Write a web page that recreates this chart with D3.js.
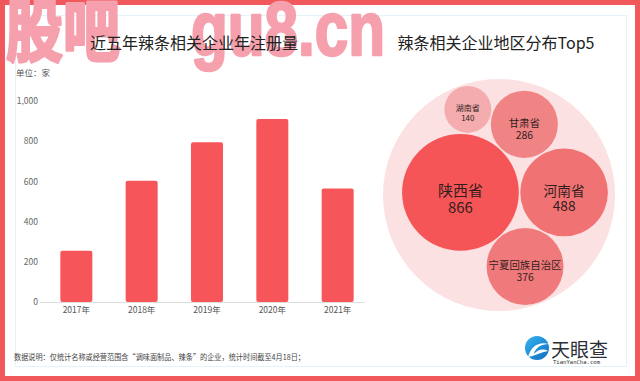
<!DOCTYPE html>
<html>
<head>
<meta charset="utf-8">
<script src="https://cdn.jsdelivr.net/npm/d3@7"></script>
<style>
  body { margin: 0; background: #fff; }
  svg { display: block; }
</style>
</head>
<body>
<div id="chart"></div>
<script>
// bar chart data
const years = ['2017年', '2018年', '2019年', '2020年', '2021年'];
const counts = [255, 603, 795, 910, 565];
const yTicks = [0, 200, 400, 600, 800, 1000];

// bubble data
const regions = ['陕西省', '河南省', '宁夏回族自治区', '甘肃省', '湖南省'];
const regionCounts = [866, 488, 376, 286, 140];

const W = 640;
const H = 381;
const cjk = '"Noto Sans CJK SC", "Noto Sans", sans-serif';

const svg = d3.select('#chart')
  .append('svg')
  .attr('width', W)
  .attr('height', H);

svg.append('rect')
  .attr('width', W)
  .attr('height', H)
  .attr('fill', '#fff');

// faint inner frame
svg.append('rect')
  .attr('x', 15.5)
  .attr('y', 15.5)
  .attr('width', 611)
  .attr('height', 351)
  .attr('fill', 'none')
  .attr('stroke', '#e4f3fa');

// red outer frame
svg.append('rect')
  .attr('x', 2.5)
  .attr('y', 2.5)
  .attr('width', W - 5)
  .attr('height', H - 5)
  .attr('fill', 'none')
  .attr('stroke', '#f0585b')
  .attr('stroke-width', 5);

// watermark (sits under the titles)
svg.append('text')
  .attr('x', 6)
  .attr('y', 56)
  .attr('textLength', 114)
  .attr('lengthAdjust', 'spacingAndGlyphs')
  .style('font-family', cjk)
  .style('font-weight', 'bold')
  .style('font-size', '68px')
  .attr('fill', '#f6a0ad')
  .attr('stroke', '#f6a0ad')
  .attr('stroke-width', 3)
  .attr('stroke-linejoin', 'round')
  .text('股吧');
svg.append('text')
  .attr('x', 191)
  .attr('y', 55)
  .attr('textLength', 194)
  .attr('lengthAdjust', 'spacingAndGlyphs')
  .style('font-family', '"Liberation Sans", Arial, sans-serif')
  .style('font-weight', 'bold')
  .style('font-size', '76px')
  .attr('fill', '#f6a0ad')
  .attr('stroke', '#f6a0ad')
  .attr('stroke-width', 2.5)
  .attr('stroke-linejoin', 'round')
  .text('gu8.cn');

// ---------- bar chart ----------
const x = d3.scaleBand()
  .domain(years)
  .range([44, 370])
  .paddingInner(0.51)
  .paddingOuter(0.25);

const y = d3.scaleLinear()
  .domain([0, 1000])
  .range([302, 101]);

svg.append('text')
  .attr('x', 194)
  .attr('y', 49)
  .attr('text-anchor', 'middle')
  .style('font-family', cjk)
  .style('font-size', '16px')
  .attr('fill', '#222')
  .text('近五年辣条相关企业年注册量');

svg.append('text')
  .attr('x', 16)
  .attr('y', 76)
  .style('font-family', cjk)
  .style('font-size', '8.5px')
  .attr('fill', '#555')
  .text('单位：家');

const yAxis = svg.append('g')
  .attr('transform', 'translate(40,0)')
  .call(d3.axisLeft(y).tickValues(yTicks).tickFormat(d3.format(',')).tickSize(0).tickPadding(2));
yAxis.select('.domain').remove();
yAxis.selectAll('text')
  .style('font-family', cjk)
  .style('font-size', '8.5px')
  .attr('fill', '#666');

const xAxis = svg.append('g')
  .attr('transform', 'translate(0,302)')
  .call(d3.axisBottom(x).tickSize(0).tickPadding(5));
xAxis.select('.domain')
  .attr('stroke', '#dedede')
  .attr('d', 'M40,0.5H365');
xAxis.selectAll('text')
  .style('font-family', cjk)
  .style('font-size', '8.5px')
  .attr('fill', '#555');

svg.append('g')
  .selectAll('rect')
  .data(counts)
  .enter()
  .append('rect')
  .attr('x', (d, i) => x(years[i]))
  .attr('y', (d) => y(d))
  .attr('width', x.bandwidth())
  .attr('height', (d) => y(0) - y(d))
  .attr('rx', 2)
  .attr('fill', '#f65659');

// ---------- bubble chart ----------
svg.append('text')
  .attr('x', 496)
  .attr('y', 49)
  .attr('text-anchor', 'middle')
  .style('font-family', cjk)
  .style('font-size', '16px')
  .attr('fill', '#222')
  .text('辣条相关企业地区分布Top5');

const R = 116;
const root = d3.hierarchy({ children: regions.map((name, i) => ({ name: name, value: regionCounts[i] })) })
  .sum((d) => d.value || 0)
  .sort((a, b) => b.value - a.value);

d3.pack().size([2 * R, 2 * R]).padding(1.5)(root);

const color = d3.scaleLinear()
  .domain([140, 300, 866])
  .range(['#f5acae', '#ef8081', '#f65557']);

const bubbles = svg.append('g')
  .attr('transform', 'translate(' + (499 - R) + ',' + (195 - R) + ')');

bubbles.append('circle')
  .attr('cx', root.x)
  .attr('cy', root.y)
  .attr('r', root.r)
  .attr('fill', '#fce1e2');

const leaf = bubbles.selectAll('.leaf')
  .data(root.leaves())
  .enter()
  .append('g')
  .attr('class', 'leaf')
  .attr('transform', (d) => 'translate(' + d.x + ',' + d.y + ')');

leaf.append('circle')
  .attr('r', (d) => d.r)
  .attr('fill', (d) => color(d.value));

function labelSize(d) {
  const byR = Math.min(15, d.r / 3.2);
  const byW = (2 * d.r * 0.95) / d.data.name.length;
  return Math.max(8, Math.min(byR, byW));
}

leaf.append('text')
  .attr('text-anchor', 'middle')
  .attr('dominant-baseline', 'central')
  .attr('y', (d) => -0.2 * labelSize(d))
  .style('font-family', cjk)
  .style('font-size', (d) => labelSize(d) + 'px')
  .attr('fill', '#321e1e')
  .text((d) => d.data.name);

leaf.append('text')
  .attr('text-anchor', 'middle')
  .attr('dominant-baseline', 'central')
  .attr('y', (d) => 0.95 * labelSize(d))
  .style('font-family', cjk)
  .style('font-size', (d) => labelSize(d) + 'px')
  .attr('fill', '#321e1e')
  .text((d) => d.data.value);

// ---------- footer ----------
svg.append('text')
  .attr('x', 14)
  .attr('y', 360)
  .attr('textLength', 291)
  .attr('lengthAdjust', 'spacingAndGlyphs')
  .style('font-family', cjk)
  .style('font-size', '8px')
  .attr('fill', '#444')
  .text('数据说明：仅统计名称或经营范围含“调味面制品、辣条”的企业，统计时间截至4月18日；');

// logo
const logo = svg.append('g').attr('transform', 'translate(537,348)');
const grad = svg.append('defs').append('linearGradient')
  .attr('id', 'logoGrad')
  .attr('x1', 0).attr('y1', 0).attr('x2', 1).attr('y2', 1);
grad.append('stop').attr('offset', 0).attr('stop-color', '#36b3ef');
grad.append('stop').attr('offset', 1).attr('stop-color', '#0f6fc0');
logo.append('circle')
  .attr('r', 12)
  .attr('fill', 'url(#logoGrad)');
logo.append('path')
  .attr('d', 'M-9,9 C-6,-2 2,-7 12,-4 C4,-4 -2,0 -3,6 C0,2 6,0 11,3 C4,4 -2,8 -9,9 Z')
  .attr('fill', '#fff');
svg.append('text')
  .attr('x', 551)
  .attr('y', 357)
  .style('font-family', cjk)
  .style('font-size', '19px')
  .attr('fill', '#2b2f36')
  .text('天眼查');
svg.append('text')
  .attr('x', 553)
  .attr('y', 364)
  .attr('textLength', 47)
  .attr('lengthAdjust', 'spacingAndGlyphs')
  .style('font-family', '"DejaVu Sans Mono", monospace')
  .style('font-size', '5.5px')
  .attr('fill', '#333')
  .text('TianYanCha.com');
</script>
</body>
</html>
